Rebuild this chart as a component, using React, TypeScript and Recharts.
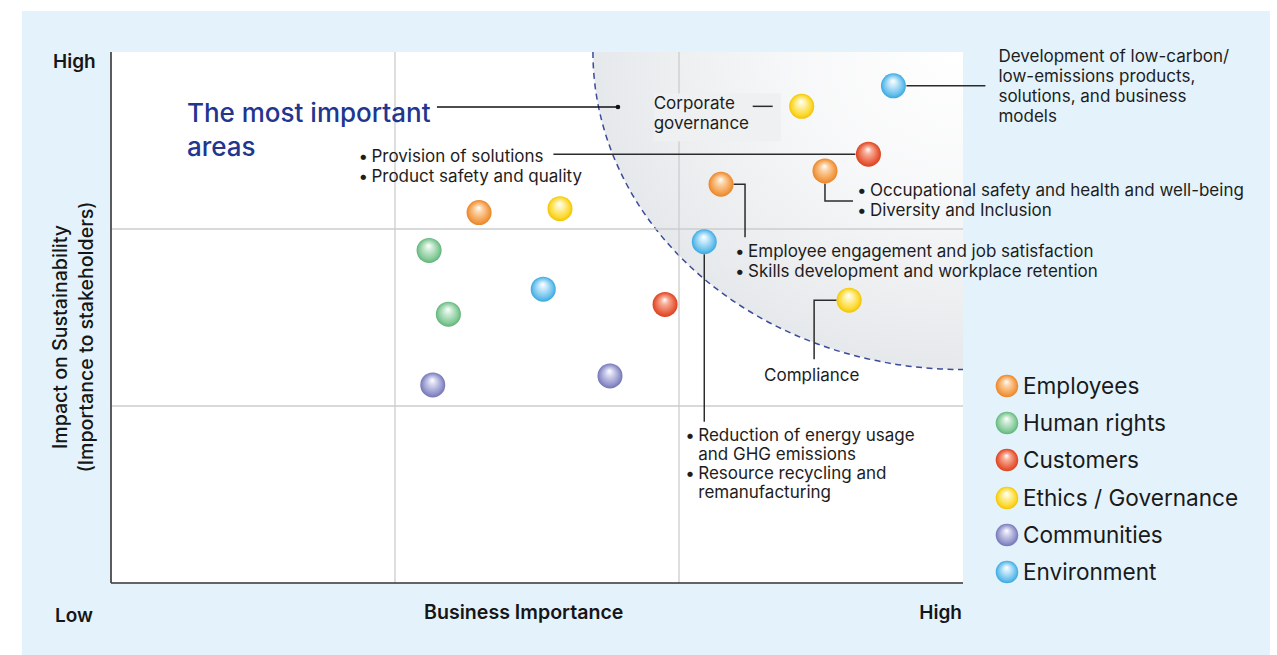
import React from 'react';
import {
  ScatterChart,
  Scatter,
  XAxis,
  YAxis,
  CartesianGrid,
  ReferenceArea,
  ReferenceDot,
  ReferenceLine,
  Legend,
} from 'recharts';

const FONT = 'Inter, "Noto Sans", "DejaVu Sans", sans-serif';

// ---------- data ----------
const seriesNames = ['Employees', 'Human rights', 'Customers', 'Ethics / Governance', 'Communities', 'Environment'];

const employeesData = [
  { id: 'safety', x: 2.514, y: 2.328 },
  { id: 'engagement', x: 2.148, y: 2.253 },
  { id: 'emp3', x: 1.296, y: 2.093 },
];
const humanRightsData = [
  { id: 'hr1', x: 1.12, y: 1.879 },
  { id: 'hr2', x: 1.188, y: 1.519 },
];
const customersData = [
  { id: 'solutions', x: 2.667, y: 2.423 },
  { id: 'cus2', x: 1.951, y: 1.574 },
];
const ethicsData = [
  { id: 'governance', x: 2.432, y: 2.693 },
  { id: 'compliance', x: 2.599, y: 1.598 },
  { id: 'eth3', x: 1.581, y: 2.115 },
];
const communitiesData = [
  { id: 'com1', x: 1.133, y: 1.119 },
  { id: 'com2', x: 1.757, y: 1.17 },
];
const environmentData = [
  { id: 'lowcarbon', x: 2.755, y: 2.809 },
  { id: 'energy', x: 2.089, y: 1.928 },
  { id: 'env3', x: 1.522, y: 1.66 },
];

const axisTicks = [0, 1, 2, 3];
const gridValues = [1, 2];
// most important zone: quarter ellipse anchored at the top-right corner
const zoneX = [1.697, 3];
const zoneY = [1.206, 3];
const titleAnchor = { x: 1.785, y: 2.689 };

const titleLines = ['The most important', 'areas'];
const yLabelLines = ['Impact on Sustainability', '(Importance to stakeholders)'];
const xLabel = 'Business Importance';
const lowLabel = 'Low';
const highLabel = 'High';

// ---------- styling ----------
const seriesStyle = [
  { key: 'emp', light: '#fcd3a6', base: '#f39c48', dark: '#e8852a' },
  { key: 'hr', light: '#cdebd5', base: '#84ca98', dark: '#5fb37a' },
  { key: 'cus', light: '#f8ad97', base: '#e85d3d', dark: '#d84321' },
  { key: 'eth', light: '#fff3ae', base: '#fcd82e', dark: '#f2c300' },
  { key: 'com', light: '#d3d4ee', base: '#9193cb', dark: '#7375b6' },
  { key: 'env', light: '#c8e9fb', base: '#66bfeb', dark: '#3aa8df' },
];
const seriesData = [employeesData, humanRightsData, customersData, ethicsData, communitiesData, environmentData];

type Pt = [number, number];
type Ann = {
  lines?: Pt[][];
  box?: { dx: number; dy: number; w: number; h: number };
  texts: { dx: number; dy: number; t: string; bullet?: boolean }[];
};

const annotations: Record<string, Ann> = {
  lowcarbon: {
    lines: [[[13, 0], [92, 0]]],
    texts: [
      { dx: 105, dy: -24, t: 'Development of low-carbon/' },
      { dx: 105, dy: -4, t: 'low-emissions products,' },
      { dx: 105, dy: 16, t: 'solutions, and business' },
      { dx: 105, dy: 36, t: 'models' },
    ],
  },
  governance: {
    box: { dx: -148, dy: -13, w: 127, h: 48 },
    lines: [[[-49, 0], [-29, 0]]],
    texts: [
      { dx: -148, dy: 3, t: 'Corporate' },
      { dx: -148, dy: 23, t: 'governance' },
    ],
  },
  solutions: {
    lines: [[[-315, 0], [-13, 0]]],
    texts: [
      { dx: -497, dy: 8, t: 'Provision of solutions', bullet: true },
      { dx: -497, dy: 28, t: 'Product safety and quality', bullet: true },
    ],
  },
  safety: {
    lines: [[[0, 12.5], [0, 30], [28, 30]]],
    texts: [
      { dx: 45, dy: 25, t: 'Occupational safety and health and well-being', bullet: true },
      { dx: 45, dy: 45, t: 'Diversity and Inclusion', bullet: true },
    ],
  },
  engagement: {
    lines: [[[12.5, 0], [24, 0], [24, 53]]],
    texts: [
      { dx: 27, dy: 73, t: 'Employee engagement and job satisfaction', bullet: true },
      { dx: 27, dy: 93, t: 'Skills development and workplace retention', bullet: true },
    ],
  },
  energy: {
    lines: [[[0, 12.5], [0, 180]]],
    texts: [
      { dx: -6, dy: 199, t: 'Reduction of energy usage', bullet: true },
      { dx: -6, dy: 218, t: 'and GHG emissions' },
      { dx: -6, dy: 237, t: 'Resource recycling and', bullet: true },
      { dx: -6, dy: 256, t: 'remanufacturing' },
    ],
  },
  compliance: {
    lines: [[[-12.5, 0], [-35, 0], [-35, 59]]],
    texts: [{ dx: -85, dy: 81, t: 'Compliance' }],
  },
};

const TEXT_COLOR = '#1d1d1d';
const LINE_COLOR = '#2b2b2b';
const GRID_COLOR = '#cdcdcd';

function renderAnnotation(ann: Ann, cx: number, cy: number) {
  return (
    <g>
      {ann.box && (
        <rect x={cx + ann.box.dx} y={cy + ann.box.dy} width={ann.box.w} height={ann.box.h} fill="#eef0f2" />
      )}
      {(ann.lines || []).map((pl, i) => (
        <polyline
          key={'l' + i}
          points={pl.map(([dx, dy]) => `${cx + dx},${cy + dy}`).join(' ')}
          fill="none"
          stroke={LINE_COLOR}
          strokeWidth={1.5}
        />
      ))}
      {ann.texts.map((tx, i) => (
        <g key={'t' + i}>
          {tx.bullet && (
            <text x={cx + tx.dx - 13} y={cy + tx.dy} fontFamily={FONT} fontSize={17} fill={TEXT_COLOR}>
              •
            </text>
          )}
          <text x={cx + tx.dx} y={cy + tx.dy} fontFamily={FONT} fontSize={17} fill={TEXT_COLOR}>
            {tx.t}
          </text>
        </g>
      ))}
    </g>
  );
}

const makeBubble = (key: string) => (props: any) => {
  const { cx, cy, payload } = props;
  if (cx == null || cy == null) return <g />;
  const ann = payload && annotations[payload.id];
  return (
    <g>
      {ann && renderAnnotation(ann, cx, cy)}
      <circle cx={cx} cy={cy} r={12.5} fill={`url(#grad-${key})`} />
    </g>
  );
};

const ZoneShape = (props: any) => {
  const { x, y, width, height } = props;
  if (x == null) return <g />;
  const right = x + width;
  const d = `M ${right} ${y} L ${x} ${y} A ${width} ${height} 0 0 0 ${right} ${y + height} Z`;
  const arc = `M ${x} ${y} A ${width} ${height} 0 0 0 ${right} ${y + height}`;
  return (
    <g>
      <path d={d} fill="url(#zoneGrad)" stroke="none" />
      <path d={arc} fill="none" stroke="#3a4b9c" strokeWidth={1.5} strokeDasharray="6 4.5" />
    </g>
  );
};

const TitleShape = (props: any) => {
  const { cx, cy } = props;
  if (cx == null) return <g />;
  return (
    <g>
      <line x1={cx - 181} y1={cy} x2={cx} y2={cy} stroke="#111" strokeWidth={1.5} />
      <circle cx={cx} cy={cy} r={2.3} fill="#111" />
      {titleLines.map((t, i) => (
        <text
          key={i}
          x={cx - 431}
          y={cy + 15 + i * 34}
          fontFamily={FONT}
          fontSize={26}
          fontWeight={500}
          fill="#22358f"
        >
          {t}
        </text>
      ))}
    </g>
  );
};

const LegendContent = () => (
  <div style={{ fontFamily: FONT }}>
    {seriesNames.map((name, i) => (
      <div key={name} style={{ display: 'flex', alignItems: 'center', height: 37.3 }}>
        <svg width={24} height={24} style={{ display: 'block' }}>
          <circle cx={12} cy={12} r={11.3} fill={`url(#grad-${seriesStyle[i].key})`} />
        </svg>
        <span style={{ fontSize: 22.6, color: '#1a1a1a', marginLeft: 4, lineHeight: '24px', whiteSpace: 'nowrap' }}>
          {name}
        </span>
      </div>
    ))}
  </div>
);

export default function App() {
  return (
    <div style={{ position: 'absolute', left: 0, top: 0, width: 1277, height: 655, overflow: 'hidden', background: '#fff' }}>
      <div style={{ position: 'absolute', left: 22, top: 11, width: 1248, height: 644, background: '#e4f3fb' }} />
      <svg width={1277} height={655} style={{ position: 'absolute', left: 0, top: 0 }}>
        <defs>
          {seriesStyle.map((s) => (
            <radialGradient key={s.key} id={`grad-${s.key}`} cx="50%" cy="50%" r="50%" fx="48%" fy="30%">
              <stop offset="0%" stopColor="#ffffff" />
              <stop offset="30%" stopColor={s.light} />
              <stop offset="80%" stopColor={s.base} />
              <stop offset="100%" stopColor={s.dark} />
            </radialGradient>
          ))}
          <radialGradient id="zoneGrad" cx="100%" cy="0%" r="100%">
            <stop offset="0%" stopColor="#8d99a6" stopOpacity={0} />
            <stop offset="45%" stopColor="#8d99a6" stopOpacity={0.07} />
            <stop offset="100%" stopColor="#8d99a6" stopOpacity={0.22} />
          </radialGradient>
        </defs>
        <g fontFamily={FONT} fill="#161616">
          <text x={53} y={68} fontSize={19} fontWeight={600}>{highLabel}</text>
          <text x={55} y={622} fontSize={19} fontWeight={600}>{lowLabel}</text>
          <text x={424} y={619} fontSize={19.6} fontWeight={600}>{xLabel}</text>
          <text x={962} y={619} fontSize={19} fontWeight={600} textAnchor="end">{highLabel}</text>
          {yLabelLines.map((t, i) => (
            <text
              key={i}
              transform="rotate(-90)"
              x={-337}
              y={67 + i * 26}
              fontSize={19.6}
              fontWeight={500}
              textAnchor="middle"
            >
              {t}
            </text>
          ))}
        </g>
      </svg>
      <div style={{ position: 'absolute', left: 0, top: 0 }}>
        <ScatterChart width={1277} height={655} margin={{ top: 52, right: 314, bottom: 71, left: 110 }}>
          <CartesianGrid fill="#ffffff" horizontal={false} vertical={false} />
          <XAxis
            type="number"
            dataKey="x"
            domain={[0, 3]}
            ticks={axisTicks}
            tick={false}
            tickLine={false}
            height={1}
            axisLine={{ stroke: '#333', strokeWidth: 1.6 }}
          />
          <YAxis
            type="number"
            dataKey="y"
            domain={[0, 3]}
            ticks={axisTicks}
            tick={false}
            tickLine={false}
            width={1}
            axisLine={{ stroke: '#4a4a4a', strokeWidth: 1.8 }}
          />
          {gridValues.map((v) => (
            <ReferenceLine key={'gx' + v} x={v} stroke={GRID_COLOR} strokeWidth={1.3} />
          ))}
          {gridValues.map((v) => (
            <ReferenceLine key={'gy' + v} y={v} stroke={GRID_COLOR} strokeWidth={1.3} />
          ))}
          <ReferenceArea x1={zoneX[0]} x2={zoneX[1]} y1={zoneY[0]} y2={zoneY[1]} shape={ZoneShape} />
          <ReferenceDot x={titleAnchor.x} y={titleAnchor.y} r={2} shape={TitleShape} />
          {seriesNames.map((name, i) => (
            <Scatter
              key={name}
              name={name}
              data={seriesData[i]}
              fill={seriesStyle[i].base}
              shape={makeBubble(seriesStyle[i].key)}
              isAnimationActive={false}
            />
          ))}
          <Legend
            layout="vertical"
            align="center"
            verticalAlign="middle"
            wrapperStyle={{ left: 995, top: 367, width: 270 }}
            content={LegendContent}
          />
        </ScatterChart>
      </div>
    </div>
  );
}
